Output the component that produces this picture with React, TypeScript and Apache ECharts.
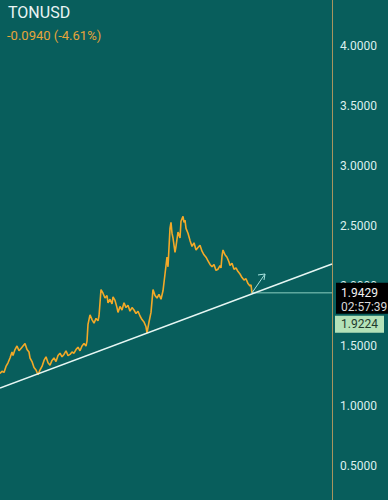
import React, { useEffect, useRef } from "react";
import * as echarts from "echarts";

const symbol = "TONUSD";
const changeText = "-0.0940 (-4.61%)";
const yTicks = [0.5, 1.0, 1.5, 2.0, 2.5, 3.0, 3.5, 4.0];

// bar index (horizontal position on the time axis) and close price
const bars = [
  0, 2, 4, 6, 8, 10, 12, 13, 15, 17, 19, 21, 23, 25, 27, 29, 30, 32, 34, 36, 38, 40, 42, 44, 46, 48, 50, 52,
  54, 56, 58, 60, 62, 64, 66, 68, 70, 72, 74, 76, 78, 80, 82, 84, 86, 87, 88, 90, 92, 94, 96, 98, 99, 101,
  103, 105, 107, 108, 110, 112, 113, 115, 117, 118, 120, 122, 124, 126, 128, 130, 132, 134, 136, 138, 140,
  142, 144, 146, 147, 149, 151, 153, 155, 157, 159, 161, 163, 165, 167, 168, 170, 171, 172, 173, 175, 176,
  178, 180, 181, 183, 184, 185, 186, 188, 190, 192, 194, 196, 198, 200, 202, 204, 206, 208, 210, 212, 214,
  216, 218, 220, 221, 222, 223, 225, 227, 229, 230, 232, 234, 236, 238, 240, 242, 244, 246, 248, 250, 251, 252,
];
const prices = [
  1.27, 1.29, 1.28, 1.33, 1.36, 1.4, 1.45, 1.42, 1.47, 1.5, 1.46, 1.48, 1.5, 1.52, 1.47, 1.45, 1.4, 1.37,
  1.32, 1.3, 1.26, 1.3, 1.33, 1.38, 1.41, 1.36, 1.34, 1.38, 1.4, 1.37, 1.42, 1.44, 1.41, 1.43, 1.46, 1.42,
  1.43, 1.45, 1.44, 1.47, 1.49, 1.46, 1.5, 1.52, 1.5, 1.54, 1.68, 1.76, 1.72, 1.69, 1.73, 1.71, 1.75, 1.97,
  1.94, 1.9, 1.92, 1.86, 1.89, 1.85, 1.91, 1.88, 1.82, 1.78, 1.83, 1.8, 1.86, 1.82, 1.84, 1.79, 1.82, 1.8,
  1.77, 1.79, 1.75, 1.72, 1.7, 1.66, 1.61, 1.7, 1.78, 1.97, 1.92, 1.9, 1.93, 1.89, 1.96, 2.1, 2.24, 2.16,
  2.48, 2.53, 2.44, 2.4, 2.28, 2.33, 2.45, 2.4, 2.54, 2.58, 2.53, 2.55, 2.48, 2.44, 2.38, 2.33, 2.36, 2.3,
  2.32, 2.34, 2.29, 2.26, 2.24, 2.21, 2.18, 2.16, 2.18, 2.13, 2.14, 2.17, 2.15, 2.25, 2.3, 2.26, 2.24, 2.2,
  2.17, 2.19, 2.14, 2.15, 2.12, 2.1, 2.07, 2.05, 2.06, 2.02, 2.0, 2.01, 1.9429,
];

const lastPrice = 1.9429;
const countdown = "02:57:39";
const bidPrice = 1.9224;

// trend line drawn by the user: [bar, price]
const trendStart = [0, 1.15];
const trendEnd = [332, 2.183];
// arrow annotation: shaft and two wings
const arrowShaft = [[252, 1.9429], [265, 2.1]];
const arrowWingA = [[258, 2.092], [265, 2.1]];
const arrowWingB = [[264, 2.05], [265, 2.1]];
const axisEndBar = 332;

const BG = "#085e5c";
const FONT = "Roboto, 'Noto Sans', sans-serif";

export default function App() {
  const ref = useRef<HTMLDivElement>(null);
  useEffect(() => {
    if (!ref.current) return;
    const chart = echarts.init(ref.current, null, { renderer: "svg" });
    const lineData = bars.map((b, i) => [b, prices[i]]);
    const annot = (data: number[][], color: string, width: number, z = 3) => ({
      type: "line",
      data,
      symbol: "none",
      silent: true,
      z,
      lineStyle: { color, width },
    });
    chart.setOption({
      animation: false,
      backgroundColor: BG,
      grid: { left: 0, right: 56, top: 0, height: 526, outerBoundsMode: "none", containLabel: false },
      xAxis: { type: "value", min: 0, max: axisEndBar, show: false },
      yAxis: {
        type: "value",
        position: "right",
        min: 0,
        max: 4.3833,
        interval: 0.5,
        axisLine: { show: true, onZero: false, lineStyle: { color: "#a8945e", width: 1 } },
        axisTick: { show: false },
        splitLine: { show: false },
        axisLabel: {
          color: "#dcf0ee",
          fontSize: 12,
          fontFamily: FONT,
          margin: 8,
          showMaxLabel: false,
          formatter: (v: number) => (yTicks.some((t) => Math.abs(t - v) < 1e-6) ? v.toFixed(4) : ""),
        },
      },
      series: [
        {
          type: "line",
          data: lineData,
          symbol: "none",
          z: 4,
          lineStyle: { color: "#f3a928", width: 1.6 },
        },
        annot([trendStart, trendEnd], "#e6f6f3", 1.5, 5),
        annot([[bars[bars.length - 1], lastPrice], [axisEndBar, lastPrice]], "#8ccfc0", 1, 3),
        annot(arrowShaft, "#a6e2de", 1, 6),
        annot(arrowWingA, "#a6e2de", 1, 6),
        annot(arrowWingB, "#a6e2de", 1, 6),
      ],
    });
    const p = chart.convertToPixel({ gridIndex: 0 }, [axisEndBar, lastPrice]) as number[];
    const ax = p[0];
    const py = p[1];
    chart.setOption({
      graphic: [
        {
          type: "text",
          left: 8,
          top: 4,
          z: 100,
          style: { text: symbol, fill: "#eaf5f4", fontSize: 16, fontFamily: FONT },
        },
        {
          type: "text",
          left: 7,
          top: 29,
          z: 100,
          style: { text: changeText, fill: "#e6a43a", fontSize: 13, fontFamily: FONT },
        },
        {
          type: "rect",
          z: 100,
          shape: { x: ax + 4, y: py - 10, width: 60, height: 31 },
          style: { fill: "#000000" },
        },
        {
          type: "text",
          z: 101,
          x: ax + 9,
          y: py,
          style: { text: lastPrice.toFixed(4), fill: "#f2f2f2", fontSize: 12, fontFamily: FONT, verticalAlign: "middle" },
        },
        {
          type: "text",
          z: 101,
          x: ax + 9,
          y: py + 14,
          style: { text: countdown, fill: "#d8d8d8", fontSize: 12, fontFamily: FONT, verticalAlign: "middle" },
        },
        {
          type: "rect",
          z: 100,
          shape: { x: ax + 3, y: py + 23, width: 49, height: 17 },
          style: { fill: "#b4e2b8" },
        },
        {
          type: "text",
          z: 101,
          x: ax + 9,
          y: py + 31.5,
          style: { text: bidPrice.toFixed(4), fill: "#1d3a2c", fontSize: 12, fontFamily: FONT, verticalAlign: "middle" },
        },
      ],
    });
    return () => chart.dispose();
  }, []);
  return (
    <div
      ref={ref}
      style={{ position: "absolute", left: 0, top: 0, width: 388, height: 500, background: BG }}
    />
  );
}
